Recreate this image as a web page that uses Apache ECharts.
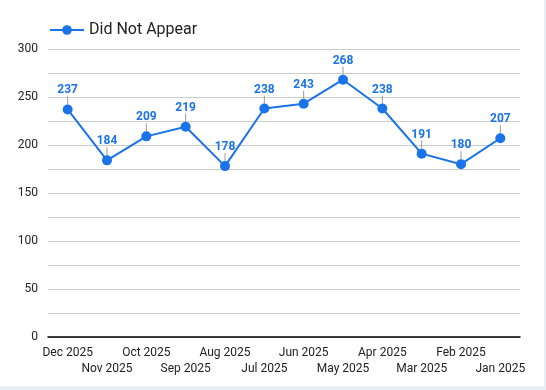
<!DOCTYPE html>
<html><head><meta charset="utf-8">
<script src="https://cdn.jsdelivr.net/npm/echarts@6/dist/echarts.min.js"></script>
<style>html,body{margin:0;padding:0;background:#e9eef4;}#c{width:544px;height:386px;background:#fff;}</style>
</head><body><div id="c"></div>
<script>
const categories = ['Dec 2025','Nov 2025','Oct 2025','Sep 2025','Aug 2025','Jul 2025','Jun 2025','May 2025','Apr 2025','Mar 2025','Feb 2025','Jan 2025'];
const didNotAppear = [237,184,209,219,178,238,243,268,238,191,180,207];
const seriesName = 'Did Not Appear';
const chart = echarts.init(document.getElementById('c'), null, {renderer:'canvas'});
chart.setOption({
  animation:false,
  textStyle:{fontFamily:'Roboto'},
  legend:{left:44,top:17,itemWidth:34,itemHeight:12,itemGap:10,
    textStyle:{fontSize:16,color:'#222',fontFamily:'Roboto'},
    data:[seriesName]},
  grid:{left:48,right:24,top:49,bottom:49,containLabel:false},
  xAxis:{type:'category',data:categories,boundaryGap:true,
    axisLine:{lineStyle:{color:'#000',width:1.5}},axisTick:{show:false},
    axisLabel:{interval:0,margin:8,fontSize:12,color:'#222',lineHeight:16,
      formatter:(v,i)=> i%2 ? '\n'+v : v}},
  yAxis:{type:'value',min:0,max:300,interval:50,
    axisLine:{show:false},axisTick:{show:false},
    axisLabel:{fontSize:12,color:'#222',margin:10},
    splitLine:{lineStyle:{color:'#cccccc'}},
    minorTick:{show:false,splitNumber:2},
    minorSplitLine:{show:true,lineStyle:{color:'#cccccc'}}},
  series:[{name:seriesName,type:'line',data:didNotAppear,
    symbol:'circle',symbolSize:10,
    lineStyle:{color:'#1a73e8',width:2},itemStyle:{color:'#1a73e8'},
    label:{show:true,position:'top',distance:3,fontSize:12,fontWeight:'bold',color:'#1a73e8'},
    labelLayout:{dy:-5},
    labelLine:{show:true,lineStyle:{color:'#999',width:1}}}]
});
</script></body></html>
